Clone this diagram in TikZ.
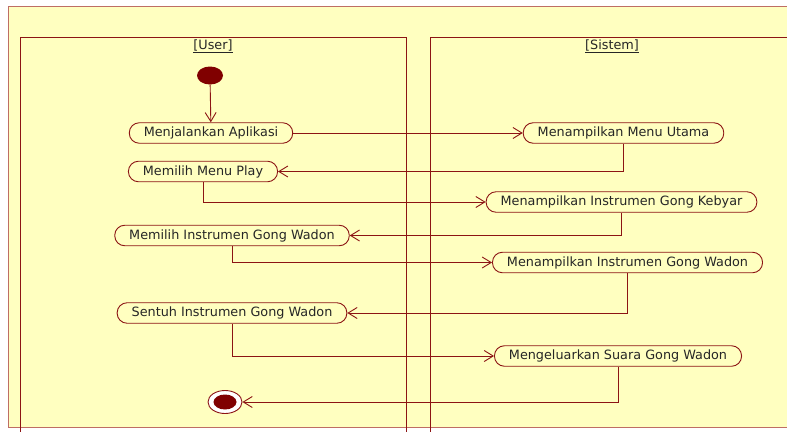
\documentclass[tikz,border=0pt]{standalone}
\usepackage{fontspec}
\setmainfont{DejaVu Sans}
\usetikzlibrary{arrows.meta,shapes.geometric}
\definecolor{bgyel}{RGB}{255,255,192}
\definecolor{lred}{RGB}{140,20,20}
\definecolor{frame}{RGB}{190,110,100}
\definecolor{dot}{RGB}{128,0,0}
\tikzset{
  act/.style={draw=lred, line width=0.9pt, fill=bgyel, rounded corners=10pt,
    minimum height=20.5pt, inner xsep=14.5pt, inner ysep=0pt, text=black!85,
    font=\fontsize{12.8}{14}\selectfont},
  flow/.style={draw=lred, line width=0.9pt, -{Straight Barb[length=9pt,width=11pt,line width=0.9pt]}},
  lane/.style={draw=lred, line width=0.9pt},
  lanelabel/.style={font=\fontsize{12.8}{14}\selectfont, text=black!85},
}
\begin{document}
\begin{tikzpicture}[x=1pt,y=-1pt]
\useasboundingbox (0,0) rectangle (787,431);
\begin{scope}
\clip (0,0) rectangle (787,431);
\fill[white] (0,0) rectangle (787,431);
\draw[frame, fill=bgyel, line width=0.9pt] (8,6.5) rectangle (800,427.5);
\draw[lane] (20,37) rectangle (406,445);
\draw[lane] (430,37) rectangle (800,445);
\end{scope}
\node[lanelabel] (lu) at (213,46) {\underline{[User]}};
\node[lanelabel] (ls) at (612,46) {\underline{[Sistem]}};

\node[ellipse, fill=dot, minimum width=26pt, minimum height=18pt, inner sep=0pt] (start) at (210,75.5) {};
\node[act] (a1) at (211,133) {Menjalankan Aplikasi};
\node[act] (b1) at (623.5,133) {Menampilkan Menu Utama};
\node[act] (a2) at (203,171.5) {Memilih Menu Play};
\node[act] (b2) at (621.5,202) {Menampilkan Instrumen Gong Kebyar};
\node[act] (a3) at (232,235.5) {Memilih Instrumen Gong Wadon};
\node[act] (b3) at (627.5,262.5) {Menampilkan Instrumen Gong Wadon};
\node[act] (a4) at (232,313) {Sentuh Instrumen Gong Wadon};
\node[act] (b4) at (618,356) {Mengeluarkan Suara Gong Wadon};
\node[ellipse, draw=lred, line width=0.9pt, fill=white, minimum width=34pt, minimum height=23pt, inner sep=0pt] (end) at (225,402) {};
\fill[dot] (end.center) ellipse (11.5 and 7.5);

\draw[flow] (start) -- (a1);
\draw[flow] (a1) -- (b1);
\draw[flow] (b1.south) |- (a2.east);
\draw[flow] (a2.south) |- (b2.west);
\draw[flow] (b2.south) |- (a3.east);
\draw[flow] (a3.south) |- (b3.west);
\draw[flow] (b3.south) |- (a4.east);
\draw[flow] (a4.south) |- (b4.west);
\draw[flow] (b4.south) |- (end.east);
\end{tikzpicture}
\end{document}
